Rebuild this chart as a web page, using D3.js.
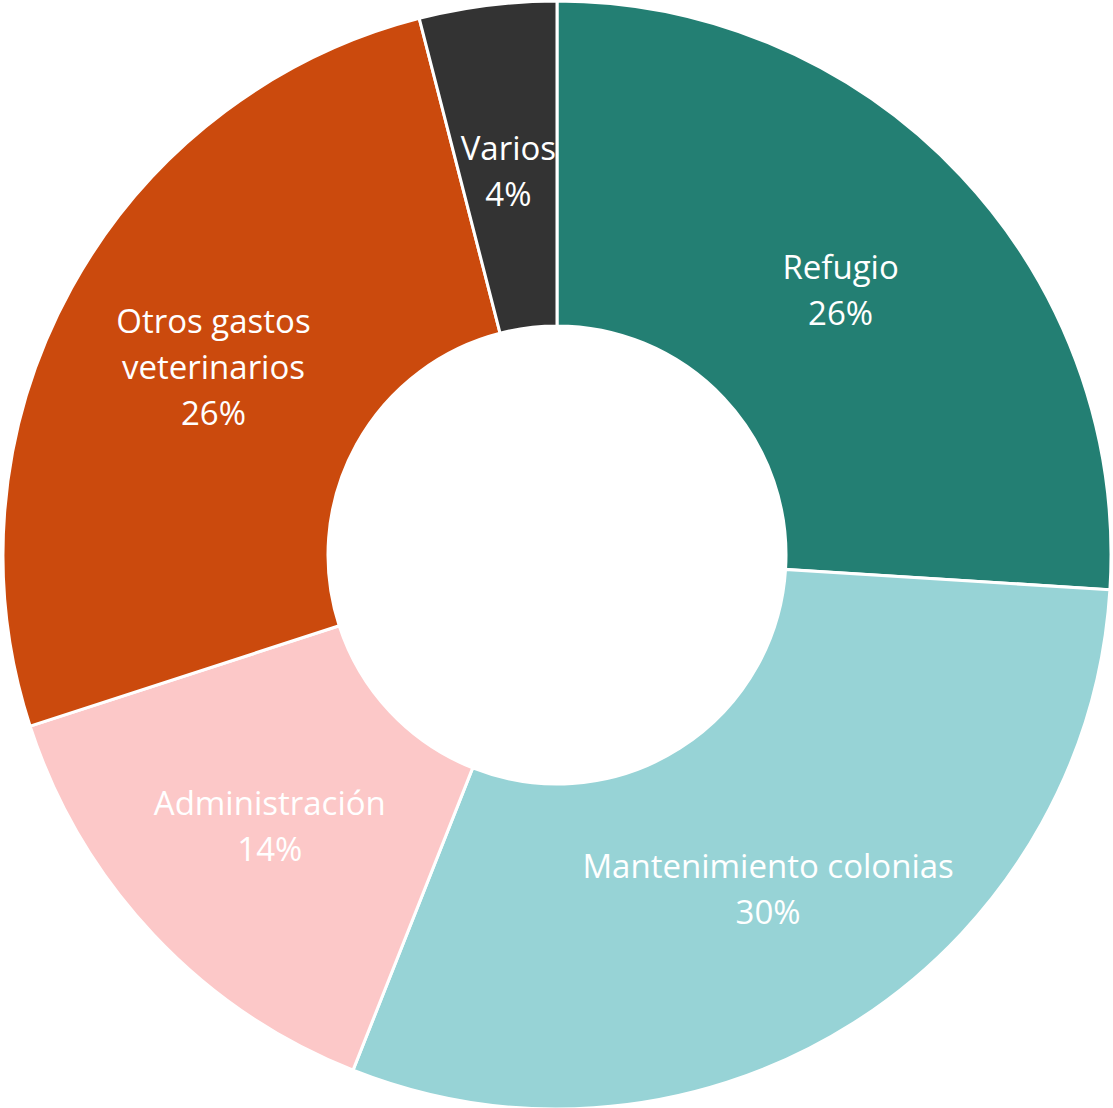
<!DOCTYPE html>
<html>
<head>
<meta charset="utf-8">
<script src="https://cdn.jsdelivr.net/npm/d3@7"></script>
<style>
  html, body { margin: 0; padding: 0; background: #fff; }
  svg { display: block; }
  .lbl { font-family: "Open Sans", Lato, sans-serif; font-size: 33px; fill: #fff; }
</style>
</head>
<body>
<svg id="chart" width="1113" height="1108"></svg>
<script>
// datos del gráfico
const categories = ['Refugio', 'Mantenimiento colonias', 'Administración', 'Otros gastos veterinarios', 'Varios'];
const values = [26, 30, 14, 26, 4];
const colors = ['#237F73', '#97D3D6', '#FCC8C8', '#CB4A0D', '#333333'];
// líneas de etiqueta (nombre partido como en el original)
const labelLines = [
  ['Refugio', '26%'],
  ['Mantenimiento colonias', '30%'],
  ['Administración', '14%'],
  ['Otros gastos', 'veterinarios', '26%'],
  ['Varios', '4%']
];

const W = 1113, H = 1108;
const cx = 557, cy = 555;
const outerR = 554, innerR = 229;

const svg = d3.select('#chart');
const g = svg.append('g').attr('transform', `translate(${cx},${cy})`);

const pie = d3.pie().sort(null).value(d => d);
const arcs = pie(values);

const arc = d3.arc().innerRadius(innerR).outerRadius(outerR);

g.selectAll('path.slice')
  .data(arcs)
  .enter()
  .append('path')
  .attr('class', 'slice')
  .attr('d', arc)
  .attr('fill', (d, i) => colors[i])
  .attr('stroke', '#fff')
  .attr('stroke-width', 3);

// posición de las etiquetas
const labelRadius = [389, 394, 394, 392, 388];
const lineH = 46;

arcs.forEach((d, i) => {
  const a = (d.startAngle + d.endAngle) / 2;
  const r = labelRadius[i];
  const x = Math.sin(a) * r;
  const y = -Math.cos(a) * r;
  const lines = labelLines[i];
  const t = g.append('text')
    .attr('class', 'lbl')
    .attr('text-anchor', 'middle')
    .attr('x', x)
    .attr('y', y - (lines.length - 1) * lineH / 2)
    .attr('dominant-baseline', 'central');
  lines.forEach((l, j) => {
    t.append('tspan')
      .attr('x', x)
      .attr('dy', j === 0 ? 0 : lineH)
      .text(l);
  });
});
</script>
</body>
</html>
